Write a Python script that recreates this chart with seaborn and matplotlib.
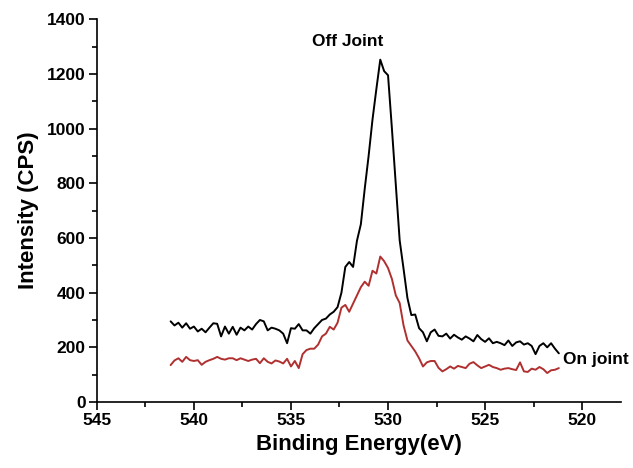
import matplotlib
matplotlib.use("Agg")
import matplotlib.pyplot as plt
from matplotlib.ticker import MultipleLocator
import pandas as pd
import seaborn as sns

# Energía de enlace (eV), paso de 0.2 eV
energy = [
    541.2, 541.0, 540.8, 540.6, 540.4, 540.2, 540.0, 539.8, 539.6, 539.4,
    539.2, 539.0, 538.8, 538.6, 538.4, 538.2, 538.0, 537.8, 537.6, 537.4,
    537.2, 537.0, 536.8, 536.6, 536.4, 536.2, 536.0, 535.8, 535.6, 535.4,
    535.2, 535.0, 534.8, 534.6, 534.4, 534.2, 534.0, 533.8, 533.6, 533.4,
    533.2, 533.0, 532.8, 532.6, 532.4, 532.2, 532.0, 531.8, 531.6, 531.4,
    531.2, 531.0, 530.8, 530.6, 530.4, 530.2, 530.0, 529.8, 529.6, 529.4,
    529.2, 529.0, 528.8, 528.6, 528.4, 528.2, 528.0, 527.8, 527.6, 527.4,
    527.2, 527.0, 526.8, 526.6, 526.4, 526.2, 526.0, 525.8, 525.6, 525.4,
    525.2, 525.0, 524.8, 524.6, 524.4, 524.2, 524.0, 523.8, 523.6, 523.4,
    523.2, 523.0, 522.8, 522.6, 522.4, 522.2, 522.0, 521.8, 521.6, 521.4,
    521.2,
]

# Intensidad (CPS) - Off Joint (negro)
off_joint = [
    295, 280, 290, 272, 288, 268, 276, 258, 268, 255,
    272, 288, 286, 240, 276, 250, 275, 246, 272, 262,
    276, 265, 285, 300, 295, 262, 272, 268, 262, 250,
    215, 270, 268, 285, 262, 262, 250, 270, 285,
    300, 305, 320, 330, 347, 400, 494, 512, 494, 590,
    650, 780, 900, 1033, 1145, 1252, 1210, 1195, 1000, 795,
    591, 487, 380, 318,
    320, 270, 255, 222, 255, 265, 242, 240, 250, 232,
    246, 236, 228, 240, 232, 222, 245, 230, 220, 233,
    215, 220, 215, 208, 225, 205, 218, 222, 210, 215,
    205, 175, 205, 215, 200, 215, 195, 178,
]

# Intensidad (CPS) - On joint (rojo)
on_joint = [
    135, 152, 160, 147, 165, 153, 150, 153, 136, 147,
    153, 158, 165, 158, 155, 160, 160, 153, 160, 155,
    150, 155, 158, 142, 160, 147, 141, 152, 148, 141,
    158, 130, 150, 124, 175, 190, 195, 195, 210,
    240, 250, 275, 265, 290, 345, 355, 330, 360, 390,
    420, 440, 425, 480, 470, 532, 515, 490, 450, 390,
    362, 280, 225, 205, 185,
    160, 130, 145, 150, 150, 125, 112, 120, 130, 122,
    132, 128, 124, 140, 146, 134, 124, 130, 136, 128,
    124, 118, 122, 124, 120, 117, 145, 112, 110, 122,
    118, 128, 120, 106, 116, 118, 124,
]

df = pd.DataFrame({"energy": energy * 2,
                   "cps": off_joint + on_joint,
                   "sample": ["Off Joint"] * len(energy) + ["On joint"] * len(energy)})

sns.set_theme(style="ticks")
plt.rcParams["font.family"] = ["Liberation Sans", "DejaVu Sans"]
plt.rcParams["font.weight"] = "bold"
for k in ["text.color", "axes.labelcolor", "xtick.color", "ytick.color", "axes.edgecolor"]:
    plt.rcParams[k] = "black"

fig = plt.figure(figsize=(6.33, 4.68), dpi=100)
ax = fig.add_axes([0.153, 0.141, 0.828, 0.818])

sns.lineplot(data=df, x="energy", y="cps", hue="sample", estimator=None, sort=False,
             palette={"Off Joint": "black", "On joint": "#b03030"}, linewidth=1.4,
             legend=False, ax=ax)

ax.set_xlim(545, 518)
ax.set_ylim(0, 1400)
ax.xaxis.set_major_locator(MultipleLocator(5))
ax.xaxis.set_minor_locator(MultipleLocator(2.5))
ax.yaxis.set_major_locator(MultipleLocator(200))
ax.yaxis.set_minor_locator(MultipleLocator(100))
ax.tick_params(which="major", direction="out", length=6, width=1.2, labelsize=12.5, pad=2)
ax.tick_params(which="minor", direction="out", length=3.5, width=1.2)
for lab in ax.get_xticklabels() + ax.get_yticklabels():
    lab.set_fontweight("bold")

sns.despine(ax=ax)
for s in ["left", "bottom"]:
    ax.spines[s].set_linewidth(1.2)
    ax.spines[s].set_color("black")

ax.set_xlabel("Binding Energy(eV)", fontsize=16, fontweight="bold", labelpad=4)
ax.set_ylabel("Intensity (CPS)", fontsize=16, fontweight="bold", labelpad=6)

ax.text(532.1, 1320, "Off Joint", ha="center", va="center", fontsize=12.5, fontweight="bold")
ax.text(521.0, 155, "On joint", ha="left", va="center", fontsize=12.5, fontweight="bold",
        clip_on=False)

fig.savefig("out.png", dpi=100, facecolor="white")
